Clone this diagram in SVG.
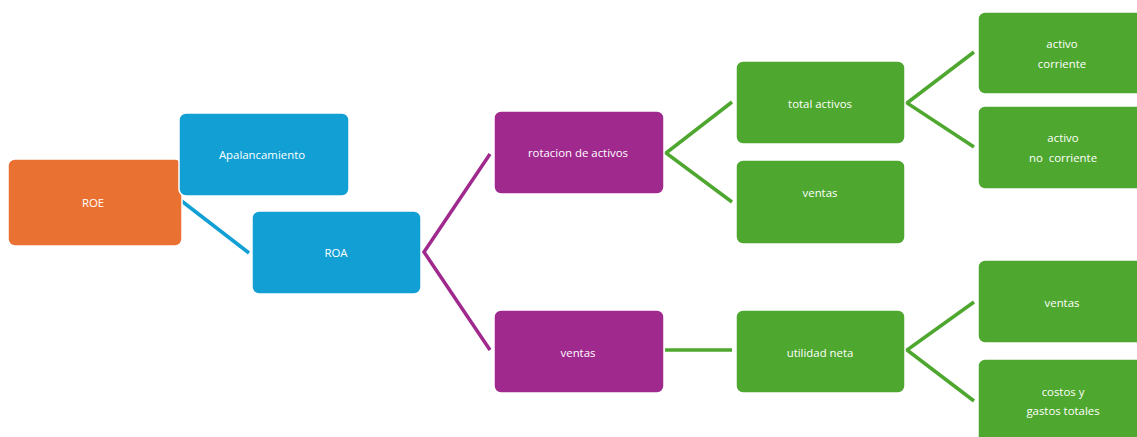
<svg xmlns="http://www.w3.org/2000/svg" width="1137" height="437" viewBox="0 0 1137 437">
<style>
.n{stroke:#fff;stroke-width:1.5}
.o{fill:#E97132}.b{fill:#119FD4}.p{fill:#A0298E}.g{fill:#4EA72E}
text{font-family:"Open Sans","Noto Sans",sans-serif;font-size:11.4px;fill:#fff;text-anchor:middle}
.c{fill:none;stroke-width:3.5;stroke-linejoin:miter}
</style>
<rect width="1137" height="437" fill="#fff"/>
<g id="connectors">
<line class="c" x1="179" y1="199" x2="249" y2="253" stroke="#119FD4"/>
<polyline class="c" points="490,154 424,252 490,350" stroke="#A0298E" stroke-width="3"/>
<polyline class="c" points="732,102 666,153 732,202" stroke="#4EA72E"/>
<line class="c" x1="665" y1="350" x2="732" y2="350" stroke="#4EA72E"/>
<polyline class="c" points="974,52 907,103 974,147" stroke="#4EA72E"/>
<polyline class="c" points="974,302 907,350 974,401" stroke="#4EA72E"/>
</g>
<g id="roe"><rect class="n o" x="8" y="159" width="174" height="87" rx="7"/><text x="93" y="207">ROE</text></g>
<g id="apalancamiento"><rect class="n b" x="179" y="113" width="170" height="83" rx="7"/><text x="262" y="159">Apalancamiento</text></g>
<g id="roa"><rect class="n b" x="252" y="211" width="169" height="83" rx="7"/><text x="336" y="257">ROA</text></g>
<g id="rotacion"><rect class="n p" x="494" y="111" width="170" height="83" rx="7"/><text x="578" y="157">rotacion de activos</text></g>
<g id="ventas1"><rect class="n p" x="494" y="310" width="170" height="83" rx="7"/><text x="578" y="357">ventas</text></g>
<g id="total"><rect class="n g" x="736" y="61" width="169" height="83" rx="7"/><text x="820" y="108">total activos</text></g>
<g id="ventas2"><rect class="n g" x="736" y="160" width="169" height="84" rx="7"/><text x="820" y="197">ventas</text></g>
<g id="utilidad"><rect class="n g" x="736" y="310" width="169" height="83" rx="7"/><text x="820" y="357">utilidad neta</text></g>
<g id="corriente"><rect class="n g" x="978" y="12" width="170" height="82" rx="7"/><text x="1062" y="48">activo</text><text x="1062" y="68">corriente</text></g>
<g id="nocorriente"><rect class="n g" x="978" y="106" width="170" height="83" rx="7"/><text x="1063" y="142">activo</text><text x="1063" y="162" xml:space="preserve">no  corriente</text></g>
<g id="ventas3"><rect class="n g" x="978" y="260" width="170" height="83" rx="7"/><text x="1062" y="307">ventas</text></g>
<g id="costos"><rect class="n g" x="978" y="359" width="170" height="90" rx="7"/><text x="1063" y="396">costos y</text><text x="1063" y="415">gastos totales</text></g>
</svg>
